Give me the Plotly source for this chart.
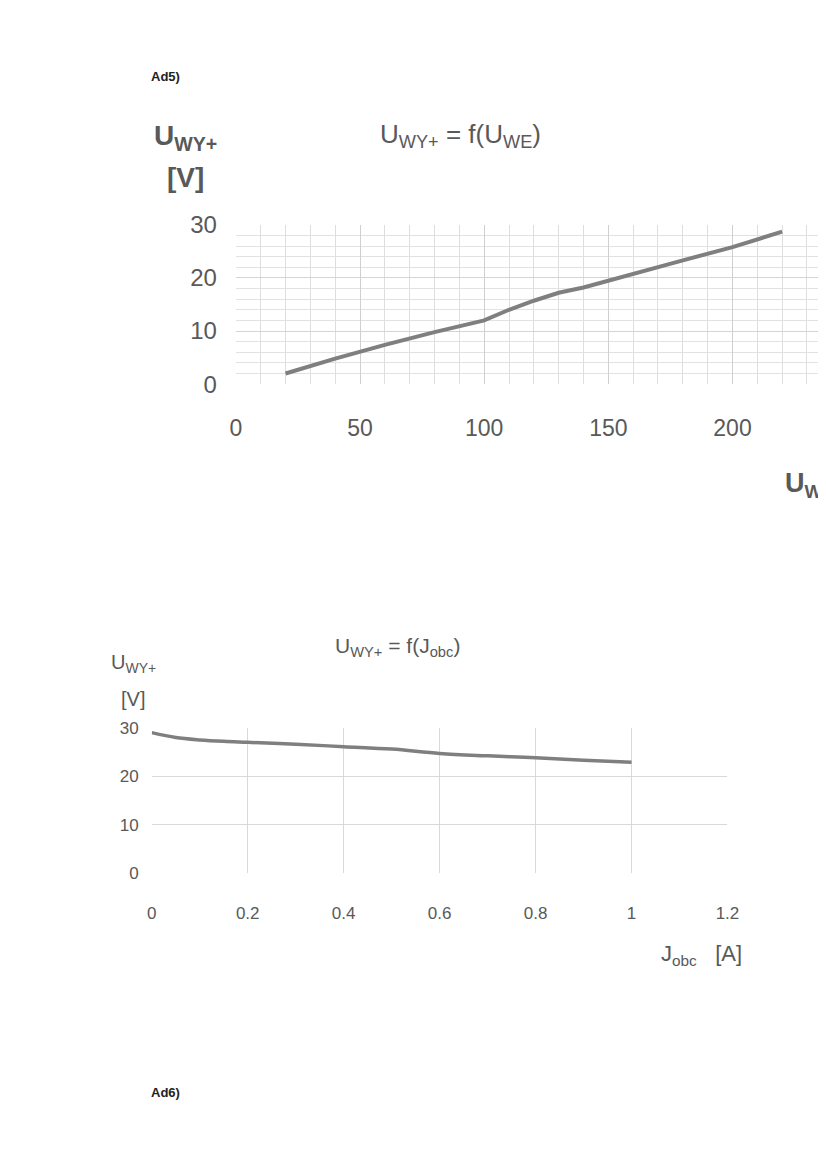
import plotly.graph_objects as go

# Chart 1: U_WY+ = f(U_WE)
u_we = [20, 40, 60, 80, 100, 110, 120, 130, 140, 160, 180, 200, 220]
u_wy1 = [2, 4.8, 7.4, 9.8, 12, 14, 15.7, 17.2, 18.2, 20.8, 23.3, 25.8, 28.7]
x1_ticks = [0, 50, 100, 150, 200]
y1_ticks = [0, 10, 20, 30]

# Chart 2: U_WY+ = f(J_obc)
j_obc = [0, 0.05, 0.1, 0.15, 0.2, 0.3, 0.4, 0.5, 0.6, 0.7, 0.8, 0.9, 1.0]
u_wy2 = [29, 28, 27.5, 27.2, 27, 26.6, 26.1, 25.6, 24.7, 24.2, 23.8, 23.3, 22.9]
x2_ticks = [0, 0.2, 0.4, 0.6, 0.8, 1, 1.2]
x2_labels = ["0", "0.2", "0.4", "0.6", "0.8", "1", "1.2"]
y2_ticks = [0, 10, 20, 30]

W, H = 826, 1169
# compensate for the page offset/scale observed in rendering
SX, BX = 0.977, 14.4
SY, BY = 0.975, 21.6
def px(x): return min(1.0, max(0.0, ((x - BX) / SX) / W))
def py(y): return min(1.0, max(0.0, 1 - ((y - BY) / SY) / H))

FONT = "Liberation Sans"
GRAY = "#595959"
LINE = "#7f7f7f"

fig = go.Figure()
fig.add_trace(go.Scatter(x=u_we, y=u_wy1, mode="lines", line=dict(color=LINE, width=4),
                         xaxis="x", yaxis="y", showlegend=False))
fig.add_trace(go.Scatter(x=j_obc, y=u_wy2, mode="lines", line=dict(color=LINE, width=3.5, shape="spline"),
                         xaxis="x2", yaxis="y2", showlegend=False))

x1_left = px(236)
x1_span_px = (1 - x1_left) * W * SX  # rendered pixels of domain
fig.update_layout(
    width=W, height=H, margin=dict(l=0, r=0, t=0, b=0),
    paper_bgcolor="white", plot_bgcolor="white", showlegend=False,
    xaxis=dict(domain=[x1_left, 1], range=[0, x1_span_px / 2.48], tickvals=x1_ticks,
               showgrid=True, gridcolor="#cfcfcf", gridwidth=1, zeroline=False,
               showline=False, ticks="", ticklabelstandoff=28,
               tickfont=dict(family=FONT, size=23, color=GRAY),
               minor=dict(dtick=10, showgrid=True, gridcolor="#dedede", gridwidth=1),
               anchor="y"),
    yaxis=dict(domain=[py(383), py(224)], range=[0, 30], tickvals=y1_ticks,
               showgrid=True, gridcolor="#d4d4d4", zeroline=False, showline=False,
               ticks="", ticklabelstandoff=18,
               tickfont=dict(family=FONT, size=24, color=GRAY),
               minor=dict(dtick=2, showgrid=True, gridcolor="#e2e2e2", gridwidth=1),
               anchor="x"),
    xaxis2=dict(domain=[px(152), px(727)], range=[0, 1.2], tickvals=x2_ticks, ticktext=x2_labels,
                showgrid=True, gridcolor="#d9d9d9", zeroline=False, showline=False,
                ticks="", ticklabelstandoff=28,
                tickfont=dict(family=FONT, size=17, color=GRAY), anchor="y2"),
    yaxis2=dict(domain=[py(871), py(726)], range=[0, 30], tickvals=y2_ticks,
                showgrid=True, gridcolor="#d9d9d9", zeroline=False, showline=False,
                ticks="", ticklabelstandoff=12,
                tickfont=dict(family=FONT, size=17, color=GRAY), anchor="x2"),
)

ann = []
def text(x, y, s, size, color="#333333", bold=False, xanchor="left"):
    ann.append(dict(x=px(x), y=py(y), xref="paper", yref="paper", text=(f"<b>{s}</b>" if bold else s),
                    showarrow=False, xanchor=xanchor, yanchor="middle",
                    font=dict(family=FONT, size=size, color=color)))

text(149, 76, "Ad5)", 13, "#222222", bold=True)
text(149, 1090, "Ad6)", 13, "#222222", bold=True)

# Chart 1 texts
text(152, 137, "U<sub>WY+</sub>", 28, GRAY, bold=True)
text(165, 177, "[V]", 28, GRAY, bold=True)
text(378, 135, "U<sub>WY+</sub> = f(U<sub>WE</sub>)", 26, GRAY)
text(782, 484, "U<sub>WE</sub>", 27, GRAY, bold=True)

# Chart 2 texts
text(333, 645, "U<sub>WY+</sub> = f(J<sub>obc</sub>)", 21, GRAY)
text(109, 662, "U<sub>WY+</sub>", 20, GRAY)
text(119, 697, "[V]", 20, GRAY)
text(659, 953, "J<sub>obc</sub>   [A]", 22, GRAY)

fig.update_layout(annotations=ann)
fig.write_html("out.html")
